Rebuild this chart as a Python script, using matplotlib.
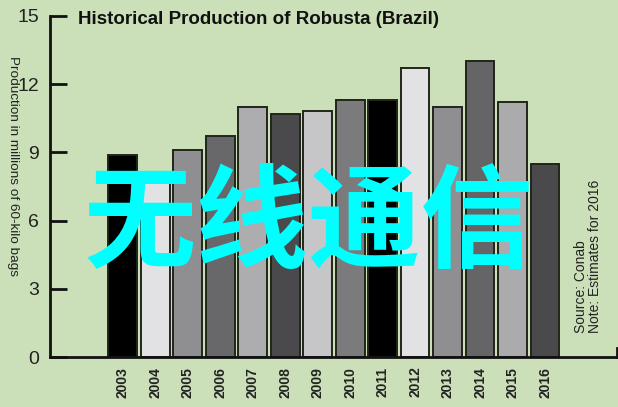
import numpy as np
import matplotlib
matplotlib.use("Agg")
import matplotlib.pyplot as plt

# data (million 60-kg bags)
years = ["2003", "2004", "2005", "2006", "2007", "2008", "2009",
         "2010", "2011", "2012", "2013", "2014", "2015", "2016"]
production = [8.9, 7.9, 9.1, 9.7, 11.0, 10.7, 10.8,
              11.3, 11.3, 12.7, 11.0, 13.0, 11.2, 8.5]
bar_colors = ["#000000", "#e2e2e4", "#8f8f91", "#68686a", "#adadb0", "#4a4a4c", "#c6c6c8",
              "#7b7b7e", "#000000", "#e2e2e4", "#8f8f91", "#656567", "#ababae", "#4a4a4c"]
yticks = [0, 3, 6, 9, 12, 15]

BG = "#cbdfb9"

fig = plt.figure(figsize=(6.18, 4.07), dpi=100, facecolor=BG)
ax = fig.add_axes([50 / 618, 50 / 407, 567 / 618, 341 / 407])
ax.set_facecolor(BG)

x = np.arange(len(years))
ax.bar(x, production, width=0.88, color=bar_colors,
       edgecolor="#20261a", linewidth=1.4, zorder=2)

ax.set_xlim(-2.238, 15.21)
ax.set_ylim(0, 15)

for side in ["top", "right"]:
    ax.spines[side].set_visible(False)
for side in ["left", "bottom"]:
    ax.spines[side].set_linewidth(2)
    ax.spines[side].set_color("#111111")

ax.set_yticks(yticks)
ax.set_yticklabels([str(v) for v in yticks], fontsize=14,
                   family="Liberation Sans", color="#222222")
ax.tick_params(axis="y", direction="in", length=12, width=2, pad=8, color="#111111")

ax.set_xticks(x)
ax.set_xticklabels(years, rotation=90, fontsize=10, fontweight="bold",
                   family=["Liberation Sans Narrow", "Liberation Sans"], color="#222222")
ax.tick_params(axis="x", length=0, pad=7)

# small end tick at the right of the x axis
ax.plot([1, 1], [0, 0.025], transform=ax.transAxes, color="#111111",
        linewidth=2, clip_on=False)

fig.text(78 / 618, 1 - 19 / 407, "Historical Production of Robusta (Brazil)",
         fontsize=13.5, fontweight="bold", family="Liberation Sans",
         ha="left", va="center", color="#111111")

fig.text(13 / 618, 1 - 166 / 407, "Production in millions of 60-kilo bags",
         rotation=270, fontsize=9.7, family="Liberation Sans",
         ha="center", va="center", color="#222222")

fig.text(588 / 618, 1 - 333 / 407, "Source: Conab\nNote: Estimates for 2016",
         rotation=90, fontsize=10, family="Liberation Sans",
         ha="center", va="bottom", multialignment="left",
         linespacing=1.05, color="#222222")

fig.text(309 / 618, 1 - 226 / 407, "无线通信", fontsize=81, fontweight="bold",
         family=["Noto Sans CJK SC", "DejaVu Sans"], color="#00ffff",
         ha="center", va="center", zorder=10)

fig.savefig("out.png", dpi=100, facecolor=BG)
